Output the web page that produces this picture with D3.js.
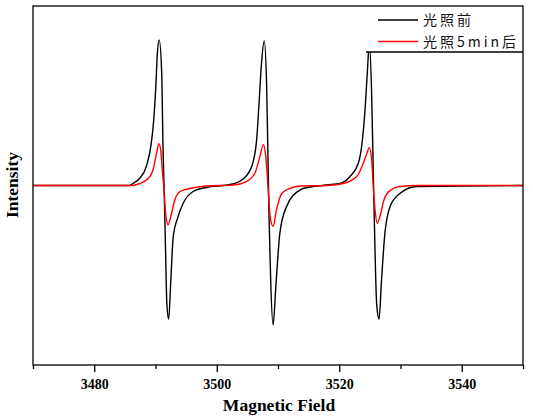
<!DOCTYPE html>
<html>
<head>
<meta charset="utf-8">
<script src="https://cdn.jsdelivr.net/npm/d3@7"></script>
<style>
  body { margin: 0; background: #fff; }
  .tick text { font-family: "Liberation Serif", serif; font-weight: bold; font-size: 14px; }
  .axis-title { font-family: "Liberation Serif", serif; font-weight: bold; font-size: 17.5px; }
  .legendText { font-family: "Noto Sans CJK SC", sans-serif; font-size: 14px; letter-spacing: 3px; fill: #111; }
</style>
</head>
<body>
<div class="plotSVG"></div>
<script>
//Spectrum (field in G, intensity in arbitrary units)
var fieldBefore = [3470, 3485.8, 3486.3, 3487.4, 3488.5, 3489.3, 3489.7, 3490.05, 3490.3, 3490.6,
  3491.0, 3491.25, 3491.4, 3491.65, 3491.85, 3492.15, 3492.5, 3492.9, 3493.7, 3494.5,
  3496.15, 3498.3, 3501.0, 3502.6, 3504.3, 3505.7, 3506.5, 3506.9, 3507.3, 3507.75,
  3508.15, 3508.4, 3508.55, 3508.8, 3509.2, 3509.65, 3510.3, 3511.4, 3513.6, 3514.1,
  3517.95, 3520.1, 3521.75, 3523.1, 3523.65, 3524.2, 3524.6, 3524.9, 3525.3, 3525.55,
  3525.85, 3526.1, 3526.5, 3526.9, 3527.45, 3528.3, 3529.9, 3532.65, 3550];
var intensityBefore = [0, 0, 2, 7, 19, 42, 65, 99, 132, 146,
  115, 32, -1, -68, -118, -134, -95, -51, -31, -18,
  -6, -2, 0, 1.5, 6.5, 19, 45, 82, 122, 145,
  99, 15, -34, -94, -140, -101, -48, -21, -4.5, -3,
  0.5, 2, 9, 22, 39, 75, 115, 142, 89, 15,
  -68, -118, -134, -95, -48, -21, -8, -1, 0];

var fieldAfter = [3470, 3486.3, 3487.4, 3488.8, 3489.6, 3490.15, 3490.55, 3490.85, 3491.15, 3491.35,
  3491.65, 3492.05, 3492.5, 3493.15, 3494.0, 3495.6, 3498.3, 3502.7, 3504.85, 3506.2,
  3507.05, 3507.6, 3507.95, 3508.3, 3508.5, 3508.8, 3509.2, 3509.75, 3510.6, 3511.95,
  3513.6, 3517.95, 3520.65, 3522.85, 3523.9, 3524.5, 3524.9, 3525.3, 3525.55, 3525.85,
  3526.2, 3526.65, 3527.3, 3528.3, 3529.9, 3532.65, 3550];
var intensityAfter = [0, 0, 2, 7, 15.5, 32, 42, 35.5, 12, -1,
  -28, -39.5, -31, -14.5, -6, -3, -0.5, 0.5, 4, 12,
  29, 41, 32, 5.5, -14.5, -34.5, -41, -24.5, -8, -3,
  -0.5, 0, 2, 9, 22, 32, 38, 25.5, -0.5, -24.5,
  -38, -31, -14.5, -5, -1, 0, 0];

var seriesNames = ["光照前", "光照5min后"];
var seriesColors = ["#000000", "#ff0000"];
var xTicks = [3470, 3480, 3490, 3500, 3510, 3520, 3530, 3540, 3550];
var xLabels = [3480, 3500, 3520, 3540];

//Setup SVG size vars
var margin = { top: 6, right: 10, bottom: 54, left: 33 },
  width = 533 - margin.left - margin.right,
  height = 419 - margin.top - margin.bottom;

var svg = d3.select(".plotSVG")
  .append("svg")
  .attr("width", 533)
  .attr("height", 419);

var plot = svg.append("g")
  .attr("transform", "translate(" + margin.left + "," + margin.top + ")");

var x = d3.scaleLinear().domain([3470, 3550]).range([0, width]);
var y = d3.scaleLinear().domain([-180, 180]).range([height, 0]);

var series = [
  fieldBefore.map(function(f, i) { return [f, intensityBefore[i]]; }),
  fieldAfter.map(function(f, i) { return [f, intensityAfter[i]]; })
];

var line = d3.line()
  .x(function(d) { return x(d[0]); })
  .y(function(d) { return y(d[1]); })
  .curve(d3.curveMonotoneX);

plot.append("defs").append("clipPath").attr("id", "clip")
  .append("rect").attr("width", width).attr("height", height);

//Draw the spectra, black first then red on top
plot.selectAll(".spectrum")
  .data(series)
  .enter()
  .append("path")
  .attr("class", "spectrum")
  .attr("clip-path", "url(#clip)")
  .attr("d", line)
  .style("fill", "none")
  .style("stroke", function(d, i) { return seriesColors[i]; })
  .style("stroke-width", 1.4);

//Legend box sits over the third peak
var legend = plot.append("g").attr("transform", "translate(" + (width - 157) + ",0)");
legend.append("rect")
  .attr("width", 157)
  .attr("height", 46)
  .style("fill", "#fff");
legend.append("line")
  .attr("x1", 0).attr("x2", 157)
  .attr("y1", 46).attr("y2", 46)
  .style("stroke", "#000")
  .style("stroke-width", 1.3);

var entry = legend.selectAll(".legend")
  .data(seriesNames)
  .enter()
  .append("g")
  .attr("class", "legend")
  .attr("transform", function(d, i) { return "translate(0," + (14 + i * 21.5) + ")"; });

entry.append("line")
  .attr("x1", 12).attr("x2", 52)
  .attr("stroke", function(d) { return seriesColors[seriesNames.indexOf(d)]; })
  .attr("stroke-width", 1.3);

entry.append("text")
  .attr("class", "legendText")
  .attr("x", 57)
  .attr("dy", "0.36em")
  .text(function(d) { return d; });

//Frame
plot.append("rect")
  .attr("width", width)
  .attr("height", height)
  .style("fill", "none")
  .style("stroke", "#000")
  .style("stroke-width", 1.3);

//X axis with minor ticks
var xAxis = d3.axisBottom(x)
  .tickValues(xTicks)
  .tickSize(0)
  .tickPadding(14)
  .tickFormat(function(d) { return xLabels.indexOf(d) >= 0 ? d : ""; });

var gx = plot.append("g")
  .attr("class", "x axis")
  .attr("transform", "translate(0," + height + ")")
  .call(xAxis);
gx.select(".domain").remove();
gx.selectAll(".tick line")
  .attr("y2", function(d) { return xLabels.indexOf(d) >= 0 ? 7 : 4; })
  .style("stroke", "#000")
  .style("stroke-width", 1.3);
gx.selectAll(".tick text").style("fill", "#000");

//Axis titles
svg.append("text")
  .attr("class", "axis-title")
  .attr("x", margin.left + width / 2 + 1)
  .attr("y", 411)
  .style("text-anchor", "middle")
  .text("Magnetic Field");

svg.append("text")
  .attr("class", "axis-title")
  .attr("transform", "translate(18," + 185 + ") rotate(-90)")
  .style("text-anchor", "middle")
  .text("Intensity");
</script>
</body>
</html>
